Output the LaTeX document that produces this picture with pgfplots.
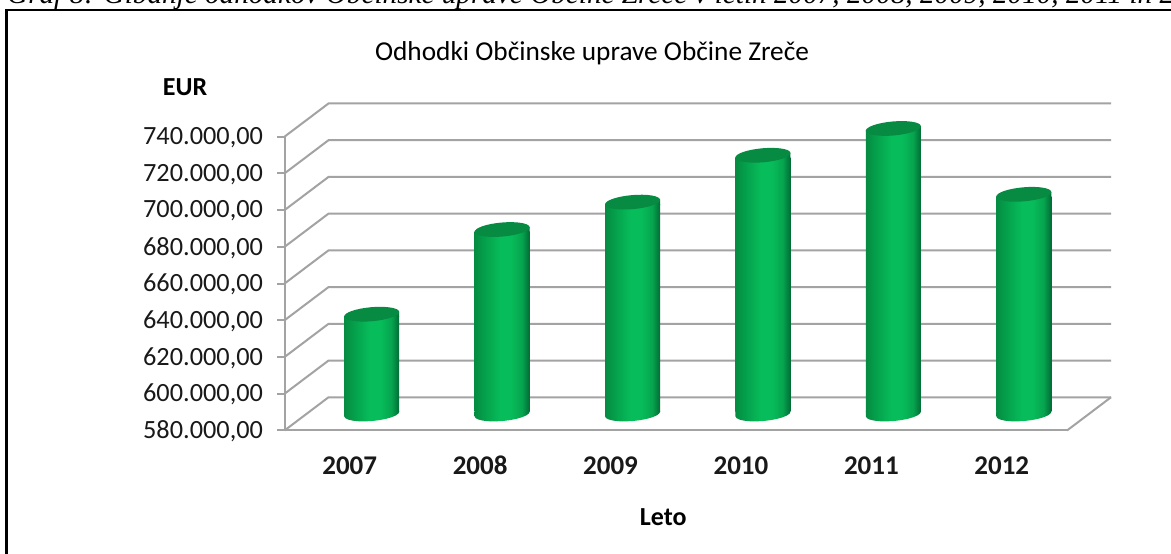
\documentclass[border=0pt]{standalone}
\usepackage{fontspec}
\usepackage{pgfplots}
\usepackage{pgfplotstable}
\pgfplotsset{compat=1.18}
\setmainfont{Carlito}
\newfontfamily\capfont{Liberation Serif}
\definecolor{gridc}{HTML}{A3A3A3}
\definecolor{capc}{HTML}{078A42}
\definecolor{cZ}{HTML}{058C42}
\definecolor{cA}{HTML}{049E4A}
\definecolor{cB}{HTML}{07BC5A}
\definecolor{cC}{HTML}{06A44E}
\definecolor{cD}{HTML}{006C35}
\pgfdeclarehorizontalshading{cyl}{100bp}{color(0bp)=(cZ); color(25bp)=(cZ); color(33bp)=(cA); color(48bp)=(cB); color(58bp)=(cB); color(68bp)=(cC); color(75bp)=(cD); color(100bp)=(cD)}
\pgfdeclareplotmark{cyltop}{%
  \pgfpathellipse{\pgfqpoint{0pt}{2.4pt}}{\pgfqpoint{27.5pt}{2.4pt}}{\pgfqpoint{-0.6pt}{7pt}}%
  \pgfsetfillcolor{capc}\pgfusepathqfill}
\pgfplotstableread{
x v
1 633030
2 679135
3 694070
4 719575
5 734180
6 698320
}\bars
\pgfplotstableread{
dx py
27.5 0.5
27.5 0
26.72 -1.89
24.12 -3.82
19.87 -5.65
14.27 -7.26
7.70 -8.54
0.6 -9.4
-6.54 -9.78
-13.23 -9.66
-19.03 -9.05
-23.52 -7.98
-26.4 -6.53
-27.5 -4.8
-27.5 0.5
}\rim
\newcommand\baseplot[1]{\addplot[draw=none,shading=cyl,forget plot] table[x expr=\thisrow{dx}/130.42+#1,y expr=581300+\thisrow{py}*544.6] {\rim};}
\begin{document}
\begin{tikzpicture}[x=1pt,y=1pt]
\path[use as bounding box,clip] (0,0) rectangle (1171,554);
\fill[white] (0,0) rectangle (1171,554);
\node[anchor=base west,inner sep=0pt,text=black] at (7,550) {\capfont\itshape\fontsize{29.2}{32}\selectfont Graf 8: Gibanje odhodkov Občinske uprave Občine Zreče v letih 2007, 2008, 2009, 2010, 2011 in 2012};
\draw[black,line width=2.4pt] (6.5,-5) -- (6.5,544) -- (1180,544);
\begin{axis}[
  at={(284.5pt,123.5pt)},anchor=south west,
  scale only axis,width=782.5pt,height=293.8pt,
  xmin=0.5,xmax=6.5,ymin=580000,ymax=740000,
  clip=false,
  axis x line*=bottom,axis y line*=left,
  axis line style={-,gridc,line width=2pt},
  xtick={1,2,3,4,5,6},
  xticklabels={2007,2008,2009,2010,2011,2012},
  xtick style={draw=none},
  ytick={580000,600000,620000,640000,660000,680000,700000,720000,740000},
  scaled y ticks=false,
  ytick style={gridc,line width=2pt},
  tick align=outside,
  major tick length=7pt,
  /pgf/number format/fixed,
  /pgf/number format/fixed zerofill,
  /pgf/number format/precision=2,
  /pgf/number format/1000 sep={.},
  /pgf/number format/use comma,
  /pgf/number format/assume math mode=true,
  tick label style={text=black!90},
  yticklabel style={font=\fontsize{26.3}{29}\selectfont,xshift=-11pt,yshift=-1pt},
  xticklabel style={font=\bfseries\fontsize{27}{30}\selectfont,yshift=-15pt,text height=18pt,text depth=0pt,xshift=0pt},
  title={Odhodki Občinske uprave Občine Zreče},
  title style={font=\fontsize{27.3}{30}\selectfont,at={(axis description cs:0.393,1.265)},anchor=center,yshift=0pt},
  xlabel={Leto},
  xlabel style={font=\bfseries\fontsize{26}{29}\selectfont,at={(axis description cs:0.484,-0.294)},anchor=center},
  ylabel={EUR},
  ylabel style={rotate=-90,font=\bfseries\fontsize{26}{29}\selectfont,at={(axis description cs:-0.127,1.169)},anchor=center},
]
\addplot[gridc,line width=2pt,forget plot] coordinates {(0.5,580000) (0.8374,598090) (6.8374,598090)};
\addplot[gridc,line width=2pt,forget plot] coordinates {(0.5,600000) (0.8374,618090) (6.8374,618090)};
\addplot[gridc,line width=2pt,forget plot] coordinates {(0.5,620000) (0.8374,638090) (6.8374,638090)};
\addplot[gridc,line width=2pt,forget plot] coordinates {(0.5,640000) (0.8374,658090) (6.8374,658090)};
\addplot[gridc,line width=2pt,forget plot] coordinates {(0.5,660000) (0.8374,678090) (6.8374,678090)};
\addplot[gridc,line width=2pt,forget plot] coordinates {(0.5,680000) (0.8374,698090) (6.8374,698090)};
\addplot[gridc,line width=2pt,forget plot] coordinates {(0.5,700000) (0.8374,718090) (6.8374,718090)};
\addplot[gridc,line width=2pt,forget plot] coordinates {(0.5,720000) (0.8374,738090) (6.8374,738090)};
\addplot[gridc,line width=2pt,forget plot] coordinates {(0.5,740000) (0.8374,758090) (6.8374,758090)};
\addplot[gridc,line width=2pt,forget plot] coordinates {(6.5,580000) (6.8374,598090)};
\end{axis}
\begin{axis}[
  at={(306.5pt,142.4pt)},anchor=south west,
  scale only axis,width=782.5pt,height=293.8pt,
  xmin=0.5,xmax=6.5,ymin=581300,ymax=741300,
  hide axis,
  clip mode=individual,
]
\addplot[ybar,bar width=55pt,bar shift=0pt,draw=none,shading=cyl,forget plot] coordinates {(1,633030)};
\addplot[ybar,bar width=55pt,bar shift=0pt,draw=none,shading=cyl,forget plot] coordinates {(2,679135)};
\addplot[ybar,bar width=55pt,bar shift=0pt,draw=none,shading=cyl,forget plot] coordinates {(3,694070)};
\addplot[ybar,bar width=55pt,bar shift=0pt,draw=none,shading=cyl,forget plot] coordinates {(4,719575)};
\addplot[ybar,bar width=55pt,bar shift=0pt,draw=none,shading=cyl,forget plot] coordinates {(5,734180)};
\addplot[ybar,bar width=55pt,bar shift=0pt,draw=none,shading=cyl,forget plot] coordinates {(6,698320)};
\end{axis}
\begin{axis}[
  at={(306.5pt,142.4pt)},anchor=south west,
  scale only axis,width=782.5pt,height=293.8pt,
  xmin=0.5,xmax=6.5,ymin=581300,ymax=741300,
  hide axis,
  clip=false,
]
\baseplot{1}
\baseplot{2}
\baseplot{3}
\baseplot{4}
\baseplot{5}
\baseplot{6}
\addplot[draw=none,shading=cyl,forget plot] coordinates {(0.7891,632760) (1.2109,632760) (1.2109,635644)};
\addplot[draw=none,shading=cyl,forget plot] coordinates {(1.7891,678865) (2.2109,678865) (2.2109,681749)};
\addplot[draw=none,shading=cyl,forget plot] coordinates {(2.7891,693800) (3.2109,693800) (3.2109,696684)};
\addplot[draw=none,shading=cyl,forget plot] coordinates {(3.7891,719305) (4.2109,719305) (4.2109,722189)};
\addplot[draw=none,shading=cyl,forget plot] coordinates {(4.7891,733910) (5.2109,733910) (5.2109,736794)};
\addplot[draw=none,shading=cyl,forget plot] coordinates {(5.7891,698050) (6.2109,698050) (6.2109,700934)};
\addplot[only marks,mark=cyltop,forget plot] table[x=x,y=v] {\bars};
\end{axis}
\end{tikzpicture}
\end{document}
